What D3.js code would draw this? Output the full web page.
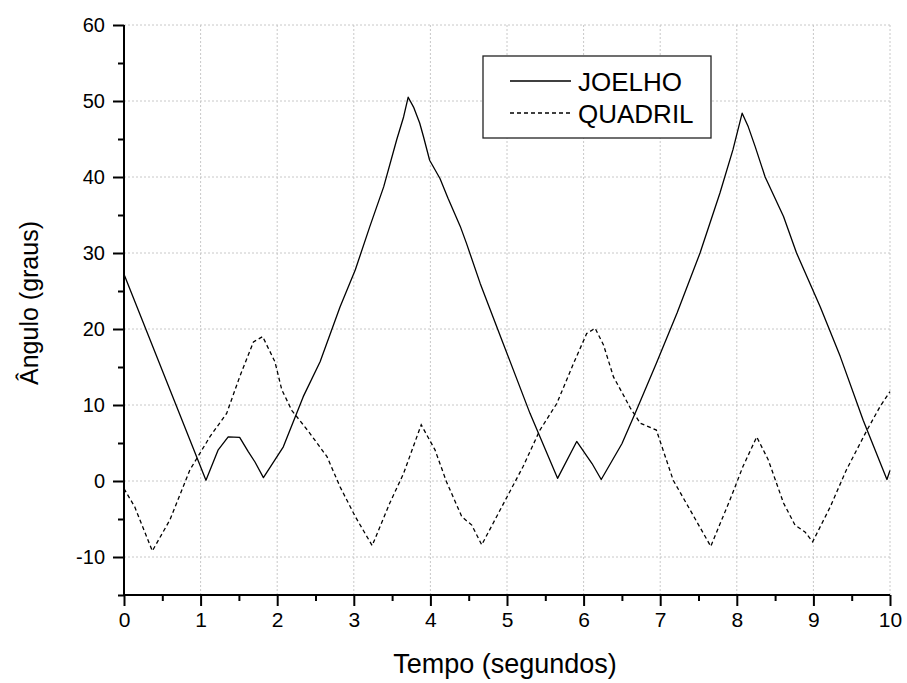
<!DOCTYPE html>
<html>
<head>
<meta charset="utf-8">
<script src="https://cdn.jsdelivr.net/npm/d3@7"></script>
<style>
  html, body { margin: 0; padding: 0; background: #fff; }
  svg { display: block; font-family: Arial, "Liberation Sans", sans-serif; }
</style>
</head>
<body>
<svg id="chart" width="907" height="683"></svg>
<script>
// ---- data ----
const joelhoT = [0, 1.07, 1.23, 1.36, 1.51, 1.62, 1.71, 1.82, 2.08, 2.34, 2.56, 2.82, 3.02, 3.21, 3.39, 3.56, 3.65, 3.71, 3.78, 3.86, 3.91, 3.99, 4.125, 4.23, 4.39, 4.47, 4.65, 4.95, 5.30, 5.66, 5.91, 6.11, 6.23, 6.50, 6.69, 6.95, 7.22, 7.52, 7.78, 7.95, 8.07, 8.15, 8.24, 8.37, 8.61, 8.78, 9.09, 9.35, 9.65, 9.96, 10.0];
const joelhoV = [27.2, 0.1, 4.1, 5.8, 5.75, 3.9, 2.5, 0.45, 4.5, 11.1, 15.7, 22.9, 27.8, 33.5, 38.7, 44.9, 47.9, 50.5, 49.2, 47.1, 45.3, 42.2, 39.8, 37.2, 33.5, 31.3, 26.0, 18.1, 8.9, 0.35, 5.2, 2.3, 0.2, 4.9, 9.3, 15.5, 22.1, 30.0, 37.9, 43.6, 48.4, 46.6, 44.0, 40.0, 34.8, 30.0, 22.9, 16.4, 8.0, 0.2, 1.4];

const quadrilT = [0, 0.14, 0.37, 0.60, 0.86, 1.12, 1.34, 1.51, 1.69, 1.81, 1.97, 2.06, 2.19, 2.41, 2.65, 2.82, 3.02, 3.24, 3.47, 3.65, 3.88, 4.06, 4.21, 4.41, 4.54, 4.67, 5.0, 5.21, 5.43, 5.65, 5.87, 6.04, 6.15, 6.26, 6.39, 6.52, 6.61, 6.74, 6.95, 7.17, 7.39, 7.66, 7.91, 8.08, 8.26, 8.41, 8.61, 8.76, 8.89, 8.99, 9.22, 9.43, 9.70, 9.87, 10.0];
const quadrilV = [-1.0, -3.4, -9.2, -5.1, 1.45, 5.8, 8.9, 13.7, 18.3, 19.0, 15.7, 12.0, 9.3, 6.5, 3.2, -0.75, -4.7, -8.5, -2.9, 1.0, 7.4, 4.1, -0.1, -4.7, -5.8, -8.4, -2.1, 1.9, 6.7, 10.2, 15.5, 19.4, 20.1, 17.9, 13.7, 11.3, 9.6, 7.6, 6.7, 0.1, -3.8, -8.6, -2.5, 1.9, 5.8, 2.8, -2.9, -5.8, -6.7, -8.0, -3.4, 1.45, 6.7, 9.8, 11.75];

const xTicks = [0, 1, 2, 3, 4, 5, 6, 7, 8, 9, 10];
const yTicks = [-10, 0, 10, 20, 30, 40, 50, 60];
const seriesNames = ["JOELHO", "QUADRIL"];
const xTitle = "Tempo (segundos)";
const yTitle = "Ângulo (graus)";

// ---- layout ----
const svg = d3.select("#chart");
const x = d3.scaleLinear().domain([0, 10]).range([124, 890]);
const y = d3.scaleLinear().domain([-15, 60]).range([595, 25]);

// grid
const grid = svg.append("g").attr("stroke", "#c8c8c8").attr("stroke-width", 1).attr("stroke-dasharray", "2,2");
xTicks.filter(d => d > 0).forEach(d => {
  grid.append("line").attr("x1", x(d)).attr("x2", x(d)).attr("y1", y(60)).attr("y2", y(-15));
});
yTicks.forEach(d => {
  grid.append("line").attr("x1", x(0)).attr("x2", x(10)).attr("y1", y(d)).attr("y2", y(d));
});

// axes
const fmt = d => String(d);
const xAxis = d3.axisBottom(x).tickValues(xTicks).tickFormat(fmt).tickSize(11).tickPadding(6);
const xMinor = d3.axisBottom(x).tickValues(d3.range(0.5, 10, 1)).tickFormat("").tickSize(6);
const yAxis = d3.axisLeft(y).tickValues(yTicks).tickFormat(fmt).tickSize(11).tickPadding(8);
const yMinor = d3.axisLeft(y).tickValues([-15, -5, 5, 15, 25, 35, 45, 55]).tickFormat("").tickSize(6);

function styleAxis(g, fs) {
  g.select(".domain").attr("stroke", "#000").attr("stroke-width", 2);
  g.selectAll(".tick line").attr("stroke", "#000").attr("stroke-width", 2);
  g.selectAll(".tick text").attr("fill", "#000").style("font-size", fs + "px").style("font-family", "Arial, 'Liberation Sans', sans-serif");
}
const gx = svg.append("g").attr("transform", `translate(0,${y(-15)})`).call(xAxis);
styleAxis(gx, 21);
gx.select(".domain").attr("d", `M${x(0)},0H${x(10)}`);
const gxm = svg.append("g").attr("transform", `translate(0,${y(-15)})`).call(xMinor);
styleAxis(gxm, 21); gxm.select(".domain").remove();

const gy = svg.append("g").attr("transform", `translate(${x(0)},0)`).call(yAxis);
styleAxis(gy, 20);
gy.select(".domain").attr("d", `M0,${y(60)}V${y(-15)}`);
const gym = svg.append("g").attr("transform", `translate(${x(0)},0)`).call(yMinor);
styleAxis(gym, 20); gym.select(".domain").remove();

// lines
const joelho = joelhoT.map((t, i) => [t, joelhoV[i]]);
const quadril = quadrilT.map((t, i) => [t, quadrilV[i]]);
const line = d3.line().x(d => x(d[0])).y(d => y(d[1]));
svg.append("path").datum(joelho).attr("d", line).attr("fill", "none").attr("stroke", "#000").attr("stroke-width", 1.3).attr("stroke-linejoin", "round");
svg.append("path").datum(quadril).attr("d", line).attr("fill", "none").attr("stroke", "#000").attr("stroke-width", 1.3).attr("stroke-dasharray", "4,3");

// legend
const lg = svg.append("g");
lg.append("rect").attr("x", 483).attr("y", 56).attr("width", 228).attr("height", 82).attr("fill", "#fff").attr("stroke", "#222").attr("stroke-width", 1.3);
const legendRows = [{name: seriesNames[0], dash: null, y: 81}, {name: seriesNames[1], dash: "4,3", y: 113}];
legendRows.forEach(r => {
  const l = lg.append("line").attr("x1", 510).attr("x2", 571).attr("y1", r.y).attr("y2", r.y).attr("stroke", "#000").attr("stroke-width", 1.3);
  if (r.dash) l.attr("stroke-dasharray", r.dash);
  lg.append("text").attr("x", 578).attr("y", r.y + 10).attr("font-size", 26).attr("fill", "#000").text(r.name);
});

// axis titles
svg.append("text").attr("x", 505).attr("y", 673).attr("text-anchor", "middle").attr("font-size", 27).attr("fill", "#000").text(xTitle);
svg.append("text").attr("transform", "translate(38,303) rotate(-90)").attr("text-anchor", "middle").attr("font-size", 25).attr("fill", "#000").text(yTitle);
</script>
</body>
</html>
